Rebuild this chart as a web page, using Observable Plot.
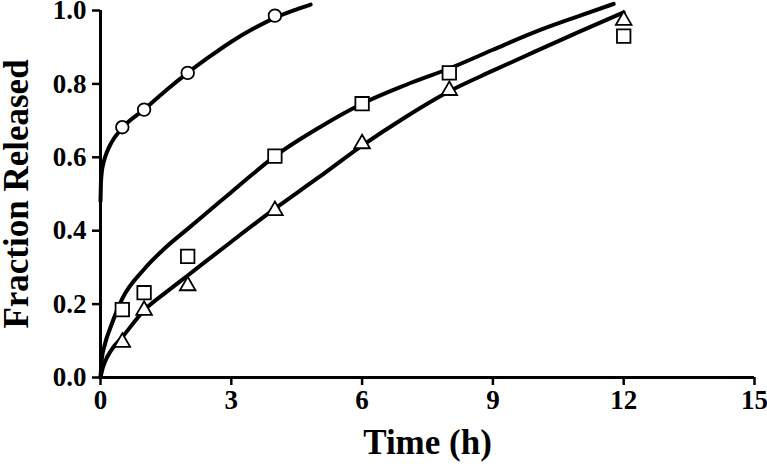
<!DOCTYPE html>
<html>
<head>
<meta charset="utf-8">
<script src="https://cdn.jsdelivr.net/npm/d3@7"></script>
<script src="https://cdn.jsdelivr.net/npm/@observablehq/plot@0.6"></script>
<style>
  html, body { margin: 0; padding: 0; background: #fff; }
</style>
</head>
<body>
<div id="chart"></div>
<script>
// Measured release points
const circleTimes = [0.5, 1, 2, 4];
const circleValues = [0.682, 0.730, 0.830, 0.986];
const squareTimes = [0.5, 1, 2, 4, 6, 8, 12];
const squareValues = [0.185, 0.231, 0.330, 0.603, 0.746, 0.830, 0.930];
const triangleTimes = [0.5, 1, 2, 4, 6, 8, 12];
const triangleValues = [0.096, 0.183, 0.250, 0.455, 0.637, 0.782, 0.973];

// Fitted curves
const circleFitT = [0, 0.01, 0.03, 0.08, 0.15, 0.25, 0.5, 1, 1.5, 2, 2.5, 3, 3.5, 4, 4.5, 4.82];
const circleFitF = [0.48, 0.53, 0.56, 0.59, 0.615, 0.64, 0.68, 0.73, 0.782, 0.83, 0.874, 0.915, 0.95, 0.98, 1.003, 1.016];
const squareFitT = [0, 0.03, 0.1, 0.23, 0.5, 1, 1.5, 2, 2.5, 3, 3.5, 4, 5, 6, 7, 8, 9, 10, 11, 11.77];
const squareFitF = [0, 0.05, 0.09, 0.137, 0.215, 0.295, 0.355, 0.405, 0.455, 0.505, 0.555, 0.603, 0.68, 0.746, 0.797, 0.842, 0.893, 0.943, 0.986, 1.018];
const triangleFitT = [0, 0.05, 0.1, 0.25, 0.5, 1, 1.5, 2, 3, 4, 5, 6, 7, 8, 9, 10, 11, 12];
const triangleFitF = [0, 0.025, 0.042, 0.075, 0.11, 0.183, 0.232, 0.278, 0.37, 0.46, 0.545, 0.632, 0.71, 0.78, 0.836, 0.89, 0.943, 0.995];

const xTicks = [0, 3, 6, 9, 12, 15];
const yTicks = [0, 0.2, 0.4, 0.6, 0.8, 1.0];
const xTitle = "Time (h)";
const yTitle = "Fraction Released";

const pts = (ts, vs) => ts.map((t, i) => ({t, v: vs[i]}));
const FONT = "'Liberation Serif', 'Times New Roman', serif";

const chart = Plot.plot({
  width: 767,
  height: 471,
  marginLeft: 100,
  marginRight: 13,
  marginTop: 10,
  marginBottom: 94,
  style: {fontFamily: FONT, background: "#fff", color: "#000", overflow: "visible"},
  x: {domain: [0, 15]},
  y: {domain: [0, 1]},
  marks: [
    Plot.axisX({ticks: xTicks, tickSize: 8, tickPadding: 4, strokeWidth: 2.5, fontSize: 27, fontWeight: "bold", fontFamily: FONT, label: null, tickFormat: d => String(d)}),
    Plot.axisY({ticks: yTicks, tickSize: 8, tickPadding: 6, strokeWidth: 2.5, fontSize: 27, fontWeight: "bold", fontFamily: FONT, label: null, tickFormat: d3.format(".1f")}),
    Plot.ruleX([0], {strokeWidth: 3}),
    Plot.ruleY([0], {strokeWidth: 3}),
    Plot.line(pts(circleFitT, circleFitF), {x: "t", y: "v", curve: "monotone-x", strokeWidth: 4}),
    Plot.line(pts(squareFitT, squareFitF), {x: "t", y: "v", curve: "monotone-x", strokeWidth: 4}),
    Plot.line(pts(triangleFitT, triangleFitF), {x: "t", y: "v", curve: "monotone-x", strokeWidth: 4}),
    Plot.dot(pts(circleTimes, circleValues), {x: "t", y: "v", r: 6.3, symbol: "circle", fill: "#fff", stroke: "#000", strokeWidth: 1.8}),
    Plot.dot(pts(squareTimes, squareValues), {x: "t", y: "v", r: 7.6, symbol: "square", fill: "#fff", stroke: "#000", strokeWidth: 1.8}),
    Plot.dot(pts(triangleTimes, triangleValues), {x: "t", y: "v", r: 5.8, symbol: "triangle", fill: "#fff", stroke: "#000", strokeWidth: 1.8}),
    Plot.text([xTitle], {frameAnchor: "bottom", dy: 76, text: d => d, fontSize: 35, fontWeight: "bold", fontFamily: FONT, lineAnchor: "bottom"}),
    Plot.text([yTitle], {frameAnchor: "left", dx: -73, text: d => d, rotate: -90, textAnchor: "middle", fontSize: 35, fontWeight: "bold", fontFamily: FONT, lineAnchor: "bottom"})
  ]
});
// enlarge the tick labels to match the reference
d3.select(chart).selectAll("text")
  .filter(function() { return this.closest('g[aria-label*="tick label"]') !== null; })
  .style("font-size", "27px")
  .style("font-weight", "bold")
  .style("font-family", FONT);
document.getElementById("chart").appendChild(chart);
</script>
</body>
</html>
